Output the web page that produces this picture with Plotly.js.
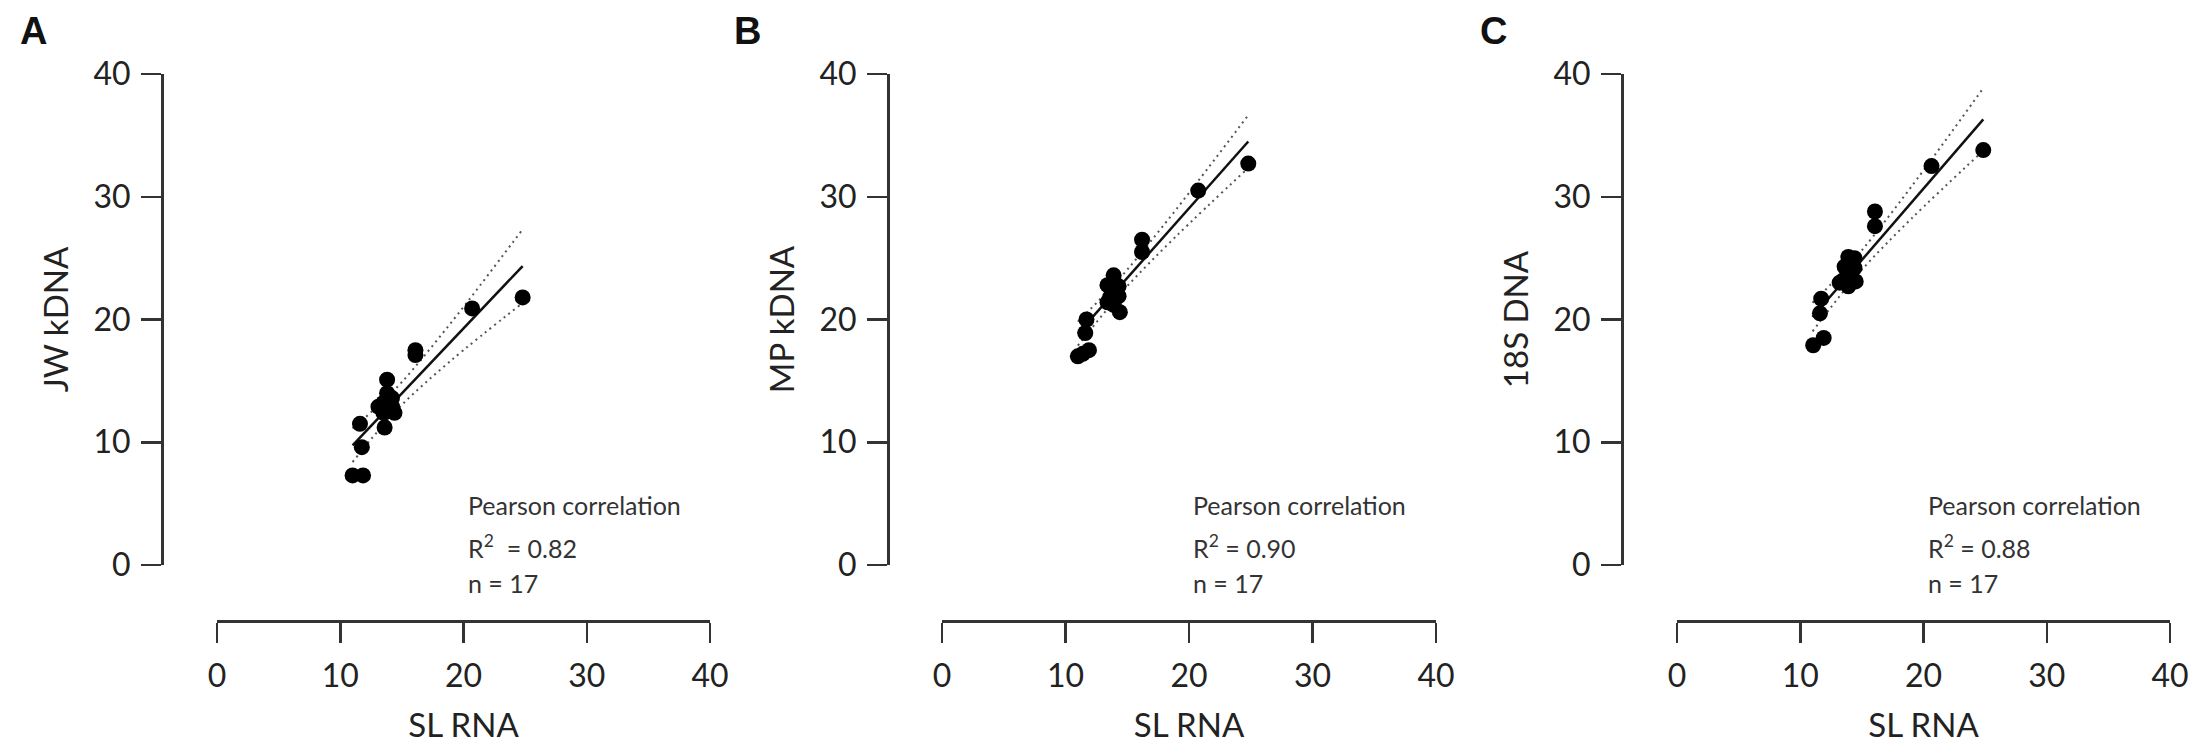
<!DOCTYPE html>
<html>
<head>
<meta charset="utf-8">
<script src="https://cdn.plot.ly/plotly-3.0.1.min.js"></script>
<style>html,body{margin:0;padding:0;background:#fff;}#chart{width:2195px;height:752px;}</style>
</head>
<body>
<div id="chart"></div>
<script>
// ---------- data ----------
const panelLetters = ["A", "B", "C"];
const xTitle = "SL RNA";
const yTitles = ["JW kDNA", "MP kDNA", "18S DNA"];
const tickVals = [0, 10, 20, 30, 40];
const r2Labels = ["0.82", "0.90", "0.88"];
const nLabels = ["17", "17", "17"];

// Panel A: SL RNA vs JW kDNA
const slRnaA = [11.0, 11.85, 11.75, 11.6, 13.1, 13.5, 13.5, 13.6, 13.8, 13.8, 14.2, 14.2, 14.4, 16.1, 16.1, 20.7, 24.8];
const jwKdna = [7.3, 7.3, 9.6, 11.5, 12.9, 13.2, 12.4, 11.2, 15.1, 14.0, 13.6, 12.9, 12.4, 17.1, 17.5, 20.9, 21.8];
// Panel B: SL RNA vs MP kDNA
const slRnaB = [11.0, 11.4, 11.9, 11.6, 11.7, 13.9, 13.4, 14.3, 13.6, 14.3, 13.4, 14.4, 13.9, 16.2, 16.2, 20.75, 24.8];
const mpKdna = [17.0, 17.2, 17.5, 18.9, 20.0, 23.6, 22.8, 22.7, 21.8, 21.9, 21.4, 20.6, 21.2, 26.5, 25.5, 30.5, 32.7];
// Panel C: SL RNA vs 18S DNA
const slRnaC = [11.05, 11.9, 11.6, 11.7, 13.9, 14.4, 13.6, 14.4, 13.5, 14.5, 13.9, 13.2, 14.1, 16.06, 16.06, 20.65, 24.85];
const dna18S = [17.9, 18.5, 20.5, 21.7, 25.1, 25.0, 24.3, 24.2, 23.2, 23.1, 22.7, 23.0, 23.6, 28.8, 27.6, 32.5, 33.8];

// Regression lines and 95% confidence bands
const fitXA = [11.0, 24.8],  fitYA = [9.75, 24.35];
const fitXB = [11.0, 24.8],  fitYB = [18.85, 34.5];
const fitXC = [11.0, 24.85], fitYC = [20.2, 36.3];
const ciXA = [11.0, 13, 15, 19, 24.8];
const ciUpA = [11.12, 12.9, 14.91, 19.75, 27.35];
const ciLoA = [8.38, 10.84, 13.05, 16.67, 21.35];
const ciXB = [11.0, 13, 15, 19, 24.8];
const ciUpB = [19.83, 21.86, 24.06, 29.02, 36.65];
const ciLoB = [17.87, 20.38, 22.72, 26.82, 32.35];
const ciXC = [11.0, 13, 15, 19, 24.85];
const ciUpC = [21.36, 23.41, 25.64, 30.8, 38.85];
const ciLoC = [19.04, 21.65, 24.06, 28.2, 33.75];

// ---------- layout geometry (pixels) ----------
const W = 2195, H = 752;
const FONT = 'Lato, "Open Sans", sans-serif';
const TXT = '#222';
const AX = '#333';
const geo = [
  {x0: 217, x40: 710, yAxisX: 162, letterX: 33, textX: 466},
  {x0: 942, x40: 1436, yAxisX: 888, letterX: 747, textX: 1191},
  {x0: 1677, x40: 2170, yAxisX: 1622, letterX: 1493, textX: 1926}
];
const yTopPx = 74, yBotPx = 565, xAxisPx = 621;

const series = [
  {x: slRnaA, y: jwKdna, fx: fitXA, fy: fitYA, cx: ciXA, cu: ciUpA, cl: ciLoA},
  {x: slRnaB, y: mpKdna, fx: fitXB, fy: fitYB, cx: ciXB, cu: ciUpB, cl: ciLoB},
  {x: slRnaC, y: dna18S, fx: fitXC, fy: fitYC, cx: ciXC, cu: ciUpC, cl: ciLoC}
];

const traces = [];
const layout = {
  width: W, height: H,
  margin: {l: 0, r: 0, t: 0, b: 0},
  paper_bgcolor: '#fff', plot_bgcolor: 'rgba(0,0,0,0)',
  showlegend: false,
  font: {family: FONT, color: TXT},
  annotations: []
};

series.forEach((s, i) => {
  const xa = i === 0 ? 'x' : 'x' + (i + 1);
  const ya = i === 0 ? 'y' : 'y' + (i + 1);
  const g = geo[i];
  const dash = {color: '#555', width: 2, dash: '2px,4px', shape: 'spline'};
  traces.push({x: s.cx, y: s.cu, xaxis: xa, yaxis: ya, mode: 'lines', line: dash, hoverinfo: 'skip'});
  traces.push({x: s.cx, y: s.cl, xaxis: xa, yaxis: ya, mode: 'lines', line: dash, hoverinfo: 'skip'});
  traces.push({x: s.fx, y: s.fy, xaxis: xa, yaxis: ya, mode: 'lines', line: {color: '#111', width: 2.5}, hoverinfo: 'skip'});
  traces.push({x: s.x, y: s.y, xaxis: xa, yaxis: ya, mode: 'markers', marker: {color: '#000', size: 16}});

  const xKey = i === 0 ? 'xaxis' : 'xaxis' + (i + 1);
  const yKey = i === 0 ? 'yaxis' : 'yaxis' + (i + 1);
  layout[xKey] = {
    domain: [g.x0 / W, g.x40 / W], range: [0, 40], anchor: 'free', position: 1 - xAxisPx / H,
    tickvals: tickVals, ticks: 'outside', ticklen: 20, tickwidth: 2.5, tickcolor: AX,
    showline: true, linecolor: AX, linewidth: 2.5, showgrid: false, zeroline: false,
    tickfont: {family: FONT, size: 32, color: TXT}, ticklabelstandoff: 6,
    title: {text: xTitle, font: {family: FONT, size: 33, color: TXT}, standoff: 20}
  };
  layout[yKey] = {
    domain: [1 - yBotPx / H, 1 - yTopPx / H], range: [0, 40], anchor: 'free', position: g.yAxisX / W,
    tickvals: tickVals, ticks: 'outside', ticklen: 20, tickwidth: 2.5, tickcolor: AX,
    showline: true, linecolor: AX, linewidth: 2.5, showgrid: false, zeroline: false,
    tickfont: {family: FONT, size: 32, color: TXT}, ticklabelstandoff: 4,
    title: {text: yTitles[i], font: {family: FONT, size: 33, color: TXT}, standoff: 14}
  };

  layout.annotations.push({
    xref: 'paper', yref: 'paper', x: g.letterX / W, y: 1 - 31 / H, xanchor: 'center', yanchor: 'middle',
    text: '<b>' + panelLetters[i] + '</b>', showarrow: false,
    font: {family: '"Liberation Sans", Arial, sans-serif', size: 38, color: '#111'}
  });
  const lines = ['Pearson correlation',
                 'R<sup>2</sup>' + (i === 0 ? '  ' : ' ') + '= ' + r2Labels[i],
                 'n = ' + nLabels[i]];
  const ys = [505, 546, 583];
  lines.forEach((t, k) => {
    layout.annotations.push({
      xref: 'paper', yref: 'paper', x: g.textX / W, y: 1 - ys[k] / H, xanchor: 'left', yanchor: 'middle',
      text: t, showarrow: false, font: {family: FONT, size: 25, color: '#333'}
    });
  });
});

Plotly.newPlot('chart', traces, layout, {staticPlot: true, displayModeBar: false});
</script>
</body>
</html>
